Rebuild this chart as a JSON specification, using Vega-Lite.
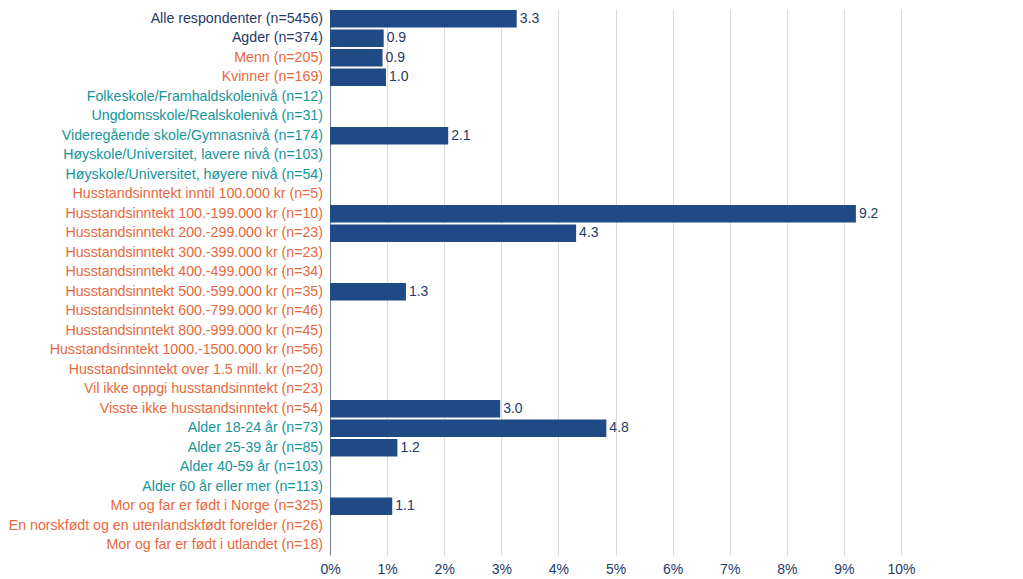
{
  "$schema": "https://vega.github.io/schema/vega-lite/v6.json",
  "width": 571,
  "height": 546,
  "padding": {"left": 8, "top": 9, "right": 5, "bottom": 5},
  "config": {
    "view": {"stroke": null},
    "font": "Liberation Sans"
  },
  "data": {
    "values": [
      {"label": "Alle respondenter (n=5456)", "group": "total", "value": 3.27},
      {"label": "Agder (n=374)", "group": "total", "value": 0.94},
      {"label": "Menn (n=205)", "group": "orange", "value": 0.92},
      {"label": "Kvinner (n=169)", "group": "orange", "value": 0.98},
      {"label": "Folkeskole/Framhaldskolenivå (n=12)", "group": "teal", "value": 0},
      {"label": "Ungdomsskole/Realskolenivå (n=31)", "group": "teal", "value": 0},
      {"label": "Videregående skole/Gymnasnivå (n=174)", "group": "teal", "value": 2.07},
      {"label": "Høyskole/Universitet, lavere nivå (n=103)", "group": "teal", "value": 0},
      {"label": "Høyskole/Universitet, høyere nivå (n=54)", "group": "teal", "value": 0},
      {"label": "Husstandsinntekt inntil 100.000 kr (n=5)", "group": "orange", "value": 0},
      {"label": "Husstandsinntekt 100.-199.000 kr (n=10)", "group": "orange", "value": 9.21},
      {"label": "Husstandsinntekt 200.-299.000 kr (n=23)", "group": "orange", "value": 4.31},
      {"label": "Husstandsinntekt 300.-399.000 kr (n=23)", "group": "orange", "value": 0},
      {"label": "Husstandsinntekt 400.-499.000 kr (n=34)", "group": "orange", "value": 0},
      {"label": "Husstandsinntekt 500.-599.000 kr (n=35)", "group": "orange", "value": 1.33},
      {"label": "Husstandsinntekt 600.-799.000 kr (n=46)", "group": "orange", "value": 0},
      {"label": "Husstandsinntekt 800.-999.000 kr (n=45)", "group": "orange", "value": 0},
      {"label": "Husstandsinntekt 1000.-1500.000 kr (n=56)", "group": "orange", "value": 0},
      {"label": "Husstandsinntekt over 1.5 mill. kr (n=20)", "group": "orange", "value": 0},
      {"label": "Vil ikke oppgi husstandsinntekt (n=23)", "group": "orange", "value": 0},
      {"label": "Visste ikke husstandsinntekt (n=54)", "group": "orange", "value": 2.98},
      {"label": "Alder 18-24 år (n=73)", "group": "teal", "value": 4.84},
      {"label": "Alder 25-39 år (n=85)", "group": "teal", "value": 1.18},
      {"label": "Alder 40-59 år (n=103)", "group": "teal", "value": 0},
      {"label": "Alder 60 år eller mer (n=113)", "group": "teal", "value": 0},
      {"label": "Mor og far er født i Norge (n=325)", "group": "orange", "value": 1.09},
      {"label": "En norskfødt og en utenlandskfødt forelder (n=26)", "group": "orange", "value": 0},
      {"label": "Mor og far er født i utlandet (n=18)", "group": "orange", "value": 0}
    ]
  },
  "encoding": {
    "y": {
      "field": "label",
      "type": "nominal",
      "sort": null,
      "scale": {"paddingInner": 0.1, "paddingOuter": 0.05},
      "axis": {
        "title": null,
        "labels": false,
        "ticks": false,
        "domain": true,
        "domainColor": "#6F7F96",
        "domainWidth": 1
      }
    }
  },
  "layer": [
    {
      "mark": {"type": "bar", "color": "#1F4A85"},
      "encoding": {
        "x": {
          "field": "value",
          "type": "quantitative",
          "scale": {"domain": [0, 10], "nice": false},
          "axis": {
            "title": null,
            "values": [0, 1, 2, 3, 4, 5, 6, 7, 8, 9, 10],
            "labelExpr": "datum.value + '%'",
            "labelFontSize": 14,
            "labelColor": "#1F3A68",
            "labelPadding": 7,
            "labelFlush": false,
            "grid": true,
            "gridColor": "#D9D9D9",
            "gridWidth": 1,
            "ticks": false,
            "domain": false
          }
        }
      }
    },
    {
      "transform": [{"filter": "datum.value > 0"}],
      "mark": {"type": "text", "align": "left", "baseline": "middle", "dx": 3, "fontSize": 14, "color": "#1F3A68"},
      "encoding": {
        "x": {"field": "value", "type": "quantitative"},
        "text": {"field": "value", "type": "quantitative", "format": ".1f"}
      }
    },
    {
      "mark": {"type": "text", "align": "right", "baseline": "middle", "dx": -7, "fontSize": 14.2},
      "encoding": {
        "x": {"datum": 0},
        "text": {"field": "label"},
        "color": {
          "field": "group",
          "type": "nominal",
          "scale": {"domain": ["total", "orange", "teal"], "range": ["#1F3A68", "#E8683C", "#16959A"]},
          "legend": null
        }
      }
    }
  ]
}
